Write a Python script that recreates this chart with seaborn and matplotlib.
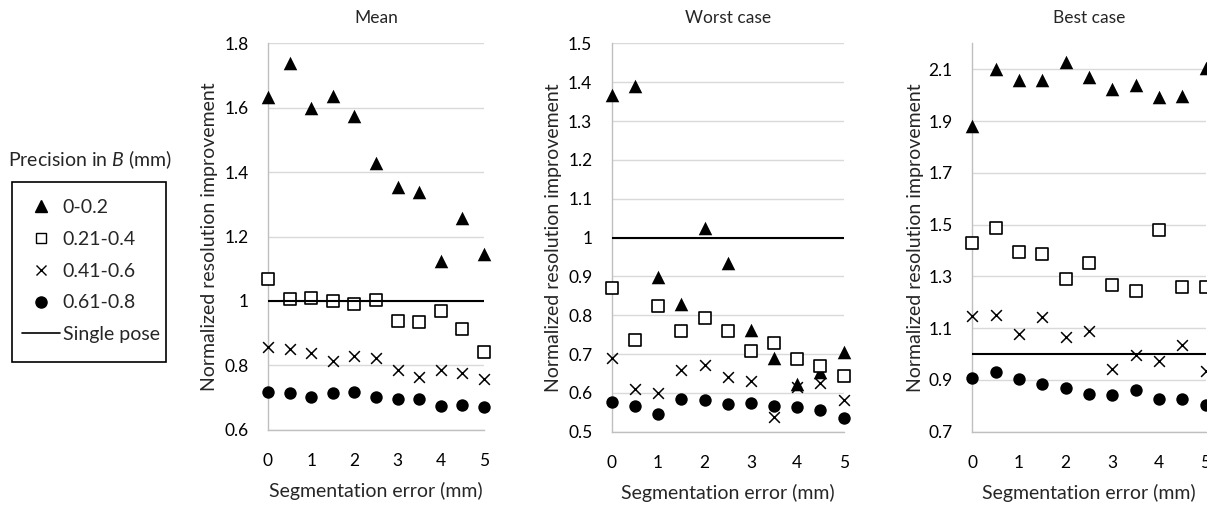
import numpy as np
import pandas as pd
import matplotlib
matplotlib.use("Agg")
import matplotlib.pyplot as plt
from matplotlib.lines import Line2D
from matplotlib.patches import Rectangle
import seaborn as sns

# segmentation error (mm) on the x axis, shared by all panels
seg_error = [0, 0.5, 1, 1.5, 2, 2.5, 3, 3.5, 4, 4.5, 5]

# precision groups (legend labels)
groups = ["0-0.2", "0.21-0.4", "0.41-0.6", "0.61-0.8"]

# Mean
mean_020 = [1.634, 1.738, 1.598, 1.636, 1.574, 1.430, 1.353, 1.339, 1.124, 1.258, 1.145]
mean_040 = [1.068, 1.007, 1.010, 0.999, 0.992, 1.003, 0.937, 0.934, 0.969, 0.912, 0.843]
mean_060 = [0.858, 0.852, 0.838, 0.815, 0.829, 0.822, 0.786, 0.764, 0.786, 0.776, 0.757]
mean_080 = [0.716, 0.715, 0.702, 0.713, 0.716, 0.703, 0.695, 0.695, 0.673, 0.677, 0.672]

# Worst case
worst_020 = [1.367, 1.390, 0.898, 0.828, 1.024, 0.934, 0.762, 0.689, 0.622, 0.655, 0.706]
worst_040 = [0.871, 0.736, 0.825, 0.759, 0.792, 0.760, 0.709, 0.728, 0.688, 0.670, 0.644]
worst_060 = [0.689, 0.609, 0.600, 0.660, 0.673, 0.642, 0.631, 0.537, 0.615, 0.625, 0.582]
worst_080 = [0.576, 0.566, 0.545, 0.585, 0.583, 0.571, 0.574, 0.567, 0.565, 0.556, 0.535]

# Best case
best_020 = [1.882, 2.100, 2.059, 2.059, 2.127, 2.072, 2.023, 2.038, 1.995, 1.997, 2.104]
best_040 = [1.428, 1.488, 1.395, 1.385, 1.292, 1.352, 1.265, 1.245, 1.478, 1.260, 1.260]
best_060 = [1.148, 1.152, 1.077, 1.145, 1.067, 1.090, 0.941, 0.995, 0.972, 1.035, 0.935]
best_080 = [0.909, 0.931, 0.905, 0.883, 0.869, 0.847, 0.841, 0.860, 0.827, 0.827, 0.805]

single_pose = 1.0

titles = ["Mean", "Worst case", "Best case"]
panel_data = [
    [mean_020, mean_040, mean_060, mean_080],
    [worst_020, worst_040, worst_060, worst_080],
    [best_020, best_040, best_060, best_080],
]
y_ticks = [
    [0.6, 0.8, 1.0, 1.2, 1.4, 1.6, 1.8],
    [0.5, 0.6, 0.7, 0.8, 0.9, 1.0, 1.1, 1.2, 1.3, 1.4, 1.5],
    [0.7, 0.9, 1.1, 1.3, 1.5, 1.7, 1.9, 2.1],
]
y_lims = [(0.6, 1.8), (0.5, 1.5), (0.7, 2.2)]

sns.set_style("white")
plt.rcParams["font.family"] = ["Lato", "DejaVu Sans"]
plt.rcParams["mathtext.fontset"] = "custom"
plt.rcParams["mathtext.it"] = "Lato:italic"
plt.rcParams["mathtext.rm"] = "Lato"

# marker styles for each precision group
styles = [
    dict(marker="^", color="black", edgecolor="black", linewidth=0, s=95),
    dict(marker="s", color="white", edgecolor="black", linewidth=1.2, s=80),
    dict(marker="x", color="black", linewidth=1.1, s=60),
    dict(marker="o", color="black", edgecolor="black", linewidth=0, s=80),
]

W, H = 1207, 505
fig = plt.figure(figsize=(W / 100, H / 100), dpi=100)
# axes boxes in figure fractions
boxes = [
    (0.222, 0.149, 0.179, 0.765),
    (0.5068, 0.145, 0.1922, 0.769),
    (0.8055, 0.145, 0.1933, 0.769),
]
ylab_x = [-0.229, -0.214, -0.208]
grey = "#bfbfbf"

for i, box in enumerate(boxes):
    ax = fig.add_axes(box)
    for j, vals in enumerate(panel_data[i]):
        df = pd.DataFrame({"x": seg_error, "y": vals})
        sns.scatterplot(data=df, x="x", y="y", ax=ax, clip_on=False,
                        zorder=3 + j, **styles[j])
    ax.axhline(single_pose, color="black", lw=1.5, zorder=8)
    ax.set_xlim(0, 5)
    ax.set_ylim(*y_lims[i])
    ax.set_xticks(range(0, 6))
    ax.set_yticks(y_ticks[i])
    ax.set_yticklabels([f"{v:g}" for v in y_ticks[i]])
    ax.grid(axis="y", color="#d9d9d9", lw=1)
    ax.set_axisbelow(True)
    for side in ["top", "right"]:
        ax.spines[side].set_visible(False)
    for side in ["left", "bottom"]:
        ax.spines[side].set_color(grey)
        ax.spines[side].set_linewidth(1)
    ax.tick_params(axis="both", length=0, labelsize=12.5, colors="black")
    ax.tick_params(axis="y", pad=14)
    ax.tick_params(axis="x", pad=17)
    ax.set_xlabel("Segmentation error (mm)", fontsize=14, labelpad=9)
    ax.set_ylabel("Normalized resolution improvement", fontsize=14)
    ax.yaxis.set_label_coords(ylab_x[i], 0.5)
    ax.set_title(titles[i], fontsize=12.5, pad=15)

# legend on the left, with a plain box drawn around it
handles = [
    Line2D([], [], ls="none", marker="^", color="black", markersize=8),
    Line2D([], [], ls="none", marker="s", markerfacecolor="white",
           markeredgecolor="black", markersize=7.5, markeredgewidth=1),
    Line2D([], [], ls="none", marker="x", color="black", markersize=7),
    Line2D([], [], ls="none", marker="o", color="black", markersize=8),
    Line2D([], [], color="black", lw=1.2),
]
labels = groups + ["Single pose"]
leg = fig.legend(handles, labels, loc="upper left",
                 bbox_to_anchor=(22 / W, 1 - 199 / H), borderaxespad=0,
                 frameon=False, fontsize=14, borderpad=0,
                 handlelength=1.95, labelspacing=0.76, handletextpad=0.15)
fig.patches.append(Rectangle((12 / W, 1 - 362 / H), 154 / W, 180 / H,
                             transform=fig.transFigure, fill=False,
                             edgecolor="black", linewidth=1.2))
fig.text(8 / W, 1 - 160 / H, "Precision in $\\mathit{B}$ (mm)",
         fontsize=14, va="center", ha="left")

fig.savefig("out.png", dpi=100)
